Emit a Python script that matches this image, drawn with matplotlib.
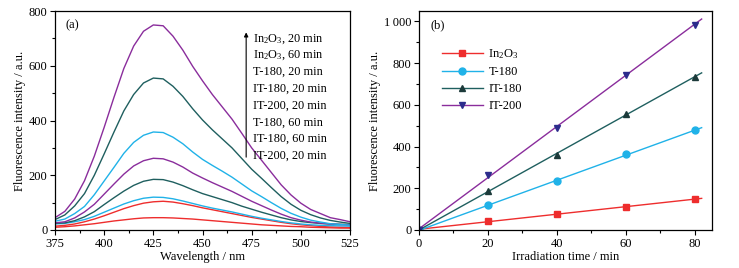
import numpy as np
import matplotlib
matplotlib.use("Agg")
import matplotlib.pyplot as plt
from matplotlib.ticker import MultipleLocator, FixedLocator, FixedFormatter

plt.rcParams['font.family'] = ['Liberation Serif', 'DejaVu Serif']
plt.rcParams['mathtext.fontset'] = 'custom'
plt.rcParams['mathtext.rm'] = 'Liberation Serif'
plt.rcParams['mathtext.it'] = 'Liberation Serif:italic'
plt.rcParams['font.size'] = 9

# --- panel (a): fluorescence spectra ---
wavelength = list(range(375, 530, 5))

spec_in2o3_20 = [10, 12, 15, 19, 23, 28, 33, 37, 41, 44, 45, 45, 44, 42, 40, 37, 34, 31, 28, 25,
                 22, 19, 17, 15, 13, 12, 10, 9, 8, 7, 7]
spec_in2o3_60 = [14, 17, 22, 30, 40, 52, 65, 78, 89, 98, 103, 105, 102, 96, 89, 81, 74, 67, 60, 53,
                 46, 40, 34, 28, 23, 19, 16, 13, 11, 10, 9]
spec_t180_20 = [22, 24, 30, 38, 50, 65, 80, 95, 107, 116, 120, 119, 114, 106, 97, 88, 80, 73, 66, 58,
                50, 43, 37, 31, 26, 22, 19, 17, 16, 15, 14]
spec_it180_20 = [24, 26, 34, 48, 67, 93, 118, 142, 163, 178, 185, 184, 175, 162, 147, 133, 122, 111, 100, 87,
                 76, 65, 55, 45, 37, 31, 27, 24, 22, 21, 20]
spec_it200_20 = [26, 30, 44, 66, 94, 131, 168, 204, 234, 253, 262, 260, 248, 230, 208, 190, 173, 157, 141, 123,
                 105, 89, 73, 58, 45, 36, 29, 25, 22, 20, 19]
spec_t180_60 = [32, 40, 60, 86, 129, 179, 229, 280, 320, 346, 358, 356, 339, 315, 285, 258, 236, 215, 193, 168,
                143, 122, 100, 79, 61, 47, 36, 29, 23, 20, 18]
spec_it180_60 = [38, 55, 88, 133, 200, 278, 358, 435, 495, 537, 555, 552, 525, 488, 443, 402, 366, 333, 300, 261,
                 222, 189, 155, 122, 94, 72, 56, 44, 35, 29, 24]
spec_it200_60 = [45, 68, 113, 180, 270, 375, 485, 590, 672, 726, 749, 746, 708, 657, 598, 545, 495, 450, 405, 353,
                 300, 255, 210, 165, 128, 98, 75, 60, 45, 38, 30]

spectra = [spec_in2o3_20, spec_in2o3_60, spec_t180_20, spec_it180_20,
           spec_it200_20, spec_t180_60, spec_it180_60, spec_it200_60]
spec_labels = ['In$_2$O$_3$, 20 min', 'In$_2$O$_3$, 60 min', 'T-180, 20 min', 'IT-180, 20 min',
               'IT-200, 20 min', 'T-180, 60 min', 'IT-180, 60 min', 'IT-200, 20 min']

# --- panel (b): intensity vs time ---
time_min = [0, 20, 40, 60, 80]
samples = ['In$_2$O$_3$', 'T-180', 'IT-180', 'IT-200']
int_in2o3 = [0, 45, 75, 112, 147]
int_t180 = [0, 118, 235, 362, 478]
int_it180 = [0, 188, 360, 555, 735]
int_it200 = [0, 262, 490, 745, 985]
b_yticks = [0, 200, 400, 600, 800, 1000]
b_yticklabels = ['0', '200', '400', '600', '800', '1\u2009000']

red = '#ee2d2d'
cyan = '#20b2e8'
teal = '#1f5f5f'
purple = '#8a2d9c'
spec_colors = [red, red, cyan, teal, purple, cyan, teal, purple]

fig = plt.figure(figsize=(7.39, 2.68), dpi=100)
ax1 = fig.add_axes([55 / 739, 38 / 268, 295 / 739, 219 / 268])
ax2 = fig.add_axes([419 / 739, 38 / 268, 293 / 739, 219 / 268])

for y, c in zip(spectra, spec_colors):
    ax1.plot(wavelength, y, color=c, lw=1.0)

ax1.set_xlim(375, 525)
ax1.set_ylim(0, 800)
ax1.xaxis.set_major_locator(MultipleLocator(25))
ax1.xaxis.set_minor_locator(MultipleLocator(12.5))
ax1.yaxis.set_major_locator(MultipleLocator(200))
ax1.yaxis.set_minor_locator(MultipleLocator(100))
ax1.set_xlabel('Wavelength / nm', labelpad=1)
ax1.set_ylabel('Fluorescence intensity / a.u.', labelpad=2)
ax1.text(0.035, 0.935, '(a)', transform=ax1.transAxes, va='center', ha='left')

# arrow + list of samples
ax1.annotate('', xy=(0.648, 0.915), xytext=(0.648, 0.32), xycoords='axes fraction',
             arrowprops=dict(arrowstyle='-|>', color='black', lw=0.8, mutation_scale=6))
for i, lab in enumerate(spec_labels):
    ax1.text(0.672, 0.873 - i * 0.0762, lab, transform=ax1.transAxes, va='center', ha='left',
             fontsize=8.8)

# panel (b)
styles = [(int_in2o3, red, red, 's'), (int_t180, cyan, cyan, 'o'),
          (int_it180, teal, '#1c3a3a', '^'), (int_it200, purple, '#2c2c8c', 'v')]
xfit = np.array([0, 82])
for (vals, lc, mc, mk), lab in zip(styles, samples):
    k, b = np.polyfit(time_min, vals, 1)
    ax2.plot(xfit, k * xfit + b, color=lc, lw=1.0)
    ax2.plot(time_min, vals, ls='none', marker=mk, ms=5, color=mc, mec=mc)
    ax2.plot([], [], color=lc, lw=1.0, marker=mk, ms=5, mfc=mc, mec=mc, label=lab)

ax2.set_xlim(0, 85)
ax2.set_ylim(0, 1050)
ax2.xaxis.set_major_locator(MultipleLocator(20))
ax2.xaxis.set_minor_locator(MultipleLocator(10))
ax2.yaxis.set_major_locator(FixedLocator(b_yticks))
ax2.yaxis.set_major_formatter(FixedFormatter(b_yticklabels))
ax2.yaxis.set_minor_locator(MultipleLocator(100))
ax2.set_xlabel('Irradiation time / min', labelpad=1)
ax2.set_ylabel('Fluorescence intensity / a.u.', labelpad=2)
ax2.text(0.04, 0.935, '(b)', transform=ax2.transAxes, va='center', ha='left')
ax2.legend(loc='upper left', bbox_to_anchor=(0.077, 0.835), frameon=False, borderpad=0,
           handlelength=3.3, handletextpad=0.45, labelspacing=0.4, borderaxespad=0)

for ax in (ax1, ax2):
    ax.tick_params(which='both', direction='out', top=False, right=False, labelsize=9, pad=2)
    ax.tick_params(which='major', length=3.5, width=0.8)
    ax.tick_params(which='minor', length=2, width=0.8)
    for s in ax.spines.values():
        s.set_linewidth(0.9)

fig.savefig('out.png', dpi=100)
